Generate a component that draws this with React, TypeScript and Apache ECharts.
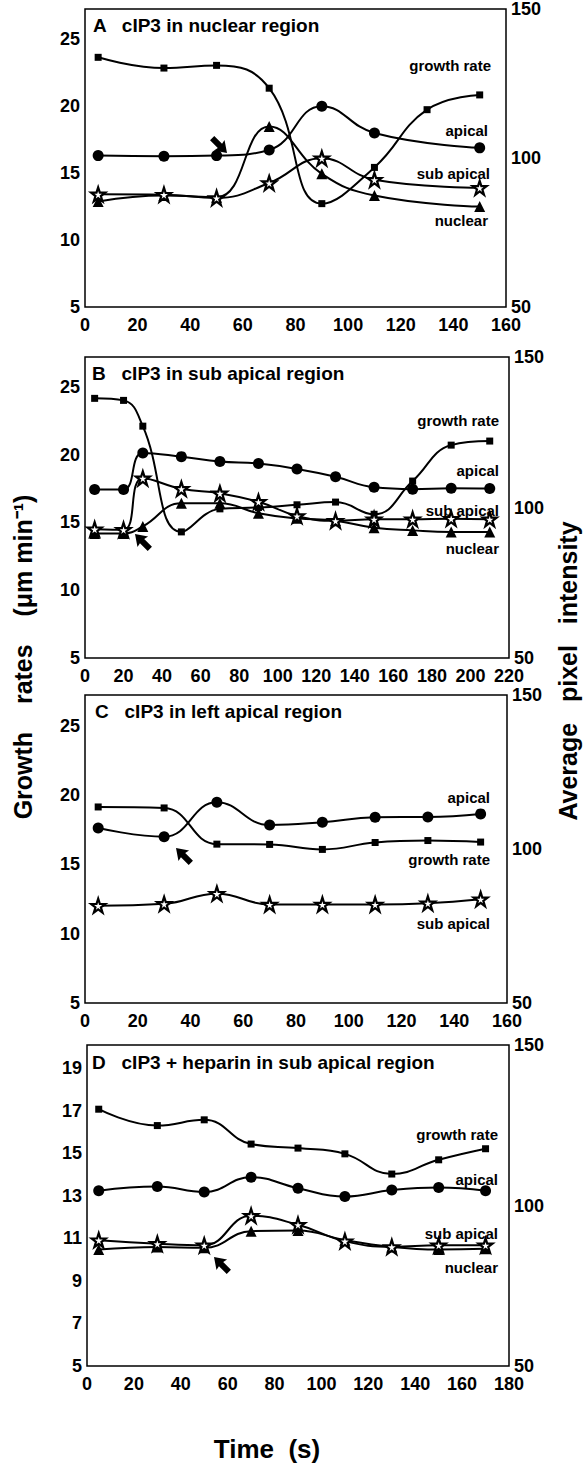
import React, { useEffect, useRef } from "react";
import * as echarts from "echarts";

const FONT = '"Liberation Sans", Arial, Helvetica, sans-serif';

// ---------- Panel A: cIP3 in nuclear region ----------
const timeA = [5, 30, 50, 70, 90, 110, 130, 150];
const growthA = [23.6, 22.8, 23.0, 21.3, 12.7, 15.4, 19.7, 20.8];
const timeA2 = [5, 30, 50, 70, 90, 110, 150];
const apicalA = [100.8, 100.6, 100.8, 102.7, 117.4, 108.4, 103.4];
const subApicalA = [87.8, 87.7, 86.6, 91.6, 99.9, 92.7, 90.0];
const nuclearA = [85.4, 87.4, 86.8, 110.6, 94.7, 87.4, 83.7];

// ---------- Panel B: cIP3 in sub apical region ----------
const timeB = [5, 20, 30, 50, 70, 90, 110, 130, 150, 170, 190, 210];
const growthB = [24.15, 24.0, 22.1, 14.3, 16.0, 16.1, 16.3, 16.5, 15.6, 18.05, 20.7, 21.0];
const apicalB = [106.0, 106.0, 118.1, 116.9, 115.3, 114.6, 112.8, 110.2, 106.7, 106.1, 106.4, 106.3];
const subApicalB = [92.8, 92.6, 109.7, 106.2, 104.7, 101.9, 97.2, 95.6, 96.1, 96.1, 96.3, 96.1];
const nuclearB = [91.4, 91.4, 93.7, 101.4, 101.4, 98.1, 96.4, 95.6, 93.3, 92.4, 91.9, 91.9];

// ---------- Panel C: cIP3 in left apical region ----------
const timeC = [5, 30, 50, 70, 90, 110, 130, 150];
const growthC = [19.13, 19.06, 16.45, 16.43, 16.07, 16.57, 16.71, 16.6];
const apicalC = [106.8, 104.0, 115.2, 107.8, 108.7, 110.3, 110.4, 111.4];
const subApicalC = [81.6, 82.2, 85.5, 82.0, 82.0, 82.0, 82.4, 83.7];

// ---------- Panel D: cIP3 + heparin in sub apical region ----------
const timeD = [5, 30, 50, 70, 90, 110, 130, 150, 170];
const growthD = [17.08, 16.31, 16.58, 15.44, 15.25, 14.98, 14.03, 14.7, 15.22];
const apicalD = [104.6, 105.9, 104.2, 108.8, 105.4, 102.8, 104.8, 105.6, 104.6];
const subApicalD = [89.2, 88.1, 87.6, 96.8, 94.0, 88.9, 87.1, 87.6, 87.6];
const nuclearD = [86.3, 87.1, 86.8, 92.0, 92.2, 89.2, 87.1, 86.3, 86.5];

// axes
const panelTitles = [
  "A   cIP3 in nuclear region",
  "B   cIP3 in sub apical region",
  "C   cIP3 in left apical region",
  "D   cIP3 + heparin in sub apical region",
];
const xMax = [160, 220, 160, 180];
const leftMin = [5, 5, 5, 5];
const leftMax = [27.2, 27.2, 27.2, 20.1];
const leftStep = [5, 5, 5, 2];
const rightMin = 50;
const rightMax = 150;
const rightStep = 50;

const STAR =
  "path://M50,0 L61.8,35.1 L98.9,35.1 L68.9,56.8 L80.3,91.9 L50,70.2 L19.7,91.9 L31.1,56.8 L1.1,35.1 L38.2,35.1 Z";

const grids = [
  { left: 85, top: 8, width: 421, height: 299 },
  { left: 85, top: 357, width: 424, height: 301 },
  { left: 85, top: 695, width: 422, height: 308 },
  { left: 87, top: 1045, width: 422, height: 321 },
];

type Kind = "growth" | "apical" | "sub" | "nuclear";
const symbolFor: Record<Kind, any> = {
  growth: { symbol: "rect", symbolSize: 7, itemStyle: { color: "#000" } },
  apical: { symbol: "circle", symbolSize: 11, itemStyle: { color: "#000" } },
  sub: {
    symbol: STAR,
    symbolSize: 14,
    itemStyle: { color: "#fff", borderColor: "#000", borderWidth: 2.2 },
  },
  nuclear: { symbol: "triangle", symbolSize: 11, itemStyle: { color: "#000" } },
};

function mk(panel: number, kind: Kind, xs: number[], ys: number[]) {
  const onLeft = kind === "growth";
  return {
    type: "line",
    name: `${panel}-${kind}`,
    xAxisIndex: panel,
    yAxisIndex: panel * 2 + (onLeft ? 0 : 1),
    data: xs.map((x, i) => [x, ys[i]]),
    smooth: 0.45,
    showSymbol: true,
    lineStyle: { color: "#000", width: 2 },
    ...symbolFor[kind],
    z: kind === "sub" ? 4 : 3,
    silent: true,
  };
}

// annotation labels: text, rightX, centerY
const seriesLabels: [string, number, number][] = [
  ["growth rate", 491, 65],
  ["apical", 488, 130],
  ["sub apical", 490, 173],
  ["nuclear", 488, 220],
  ["growth rate", 499, 420],
  ["apical", 499, 470],
  ["sub apical", 499, 510],
  ["nuclear", 499, 548],
  ["apical", 490, 797],
  ["growth rate", 490, 859],
  ["sub apical", 490, 923],
  ["growth rate", 498, 1134],
  ["apical", 498, 1179],
  ["sub apical", 498, 1233],
  ["nuclear", 498, 1267],
];
const titlePos: [number, number][] = [
  [93, 25],
  [92, 373],
  [95, 711],
  [92, 1062],
];
// arrows: tip x, tip y, rotation
const arrows: [number, number, number][] = [
  [227, 153, -Math.PI / 4],
  [135, 534, (3 * Math.PI) / 4],
  [176, 848, (3 * Math.PI) / 4],
  [214, 1257, (3 * Math.PI) / 4],
];

const tickLabel = {
  color: "#000",
  fontWeight: "bold" as const,
  fontSize: 18,
  fontFamily: FONT,
  lineHeight: 15,
};

export default function App() {
  const ref = useRef<HTMLDivElement>(null);
  useEffect(() => {
    if (!ref.current) return;
    const chart = echarts.init(ref.current, undefined, { renderer: "svg" });

    const xAxis = grids.map((_, i) => ({
      type: "value",
      gridIndex: i,
      min: 0,
      max: xMax[i],
      interval: 20,
      axisLine: { show: false },
      axisTick: { show: false },
      splitLine: { show: false },
      axisLabel: { ...tickLabel, margin: 10 },
    }));
    const yAxis: any[] = [];
    grids.forEach((_, i) => {
      yAxis.push({
        type: "value",
        gridIndex: i,
        position: "left",
        min: leftMin[i],
        max: leftMax[i],
        interval: 1,
        axisLine: { show: false },
        axisTick: { show: false },
        splitLine: { show: false },
        axisLabel: {
          ...tickLabel,
          margin: 5,
          showMaxLabel: false,
          formatter: (v: number) => {
            const r = Math.round(v);
            if (Math.abs(v - r) > 1e-6) return "";
            return (r - leftMin[i]) % leftStep[i] === 0 ? String(r) : "";
          },
        },
      });
      yAxis.push({
        type: "value",
        gridIndex: i,
        position: "right",
        min: rightMin,
        max: rightMax,
        interval: rightStep,
        axisLine: { show: false },
        axisTick: { show: false },
        splitLine: { show: false },
        axisLabel: { ...tickLabel, margin: 5 },
      });
    });

    const series = [
      mk(0, "growth", timeA, growthA),
      mk(0, "apical", timeA2, apicalA),
      mk(0, "nuclear", timeA2, nuclearA),
      mk(0, "sub", timeA2, subApicalA),
      mk(1, "growth", timeB, growthB),
      mk(1, "apical", timeB, apicalB),
      mk(1, "nuclear", timeB, nuclearB),
      mk(1, "sub", timeB, subApicalB),
      mk(2, "growth", timeC, growthC),
      mk(2, "apical", timeC, apicalC),
      mk(2, "sub", timeC, subApicalC),
      mk(3, "growth", timeD, growthD),
      mk(3, "apical", timeD, apicalD),
      mk(3, "nuclear", timeD, nuclearD),
      mk(3, "sub", timeD, subApicalD),
    ];

    const graphic: any[] = [];
    panelTitles.forEach((t, i) => {
      graphic.push({
        type: "text",
        x: titlePos[i][0],
        y: titlePos[i][1],
        style: {
          text: t,
          fill: "#000",
          font: `bold 19px ${FONT}`,
          align: "left",
          verticalAlign: "middle",
        },
      });
    });
    seriesLabels.forEach(([t, x, y]) => {
      graphic.push({
        type: "text",
        x,
        y,
        style: {
          text: t,
          fill: "#000",
          font: `bold 15px ${FONT}`,
          align: "right",
          verticalAlign: "middle",
        },
      });
    });
    arrows.forEach(([x, y, r]) => {
      graphic.push({
        type: "group",
        x,
        y,
        rotation: r,
        children: [
          {
            type: "polygon",
            shape: {
              points: [
                [0, 0],
                [-11, -7.5],
                [-10, -3],
                [-21, -3],
                [-21, 3],
                [-10, 3],
                [-11, 7.5],
              ],
            },
            style: { fill: "#000" },
          },
        ],
      });
    });
    graphic.push({
      type: "text",
      x: 23,
      y: 657,
      rotation: Math.PI / 2,
      style: {
        text: "Growth    rates    (\u03BCm min\u207B\u00B9)",
        fill: "#000",
        font: `bold 25px ${FONT}`,
        align: "center",
        verticalAlign: "middle",
      },
    });
    graphic.push({
      type: "text",
      x: 568,
      y: 671,
      rotation: Math.PI / 2,
      style: {
        text: "Average   pixel   intensity",
        fill: "#000",
        font: `bold 25px ${FONT}`,
        align: "center",
        verticalAlign: "middle",
      },
    });
    graphic.push({
      type: "text",
      x: 267,
      y: 1449,
      style: {
        text: "Time  (s)",
        fill: "#000",
        font: `bold 26px ${FONT}`,
        align: "center",
        verticalAlign: "middle",
      },
    });

    chart.setOption({
      animation: false,
      backgroundColor: "#fff",
      grid: grids.map((g) => ({
        ...g,
        show: true,
        borderColor: "#000",
        borderWidth: 1.5,
        backgroundColor: "rgba(0,0,0,0)",
        containLabel: false,
      })),
      xAxis,
      yAxis,
      series,
      graphic,
    });
    return () => chart.dispose();
  }, []);

  return (
    <div
      ref={ref}
      style={{
        position: "absolute",
        left: 0,
        top: 0,
        width: 584,
        height: 1465,
        background: "#fff",
      }}
    />
  );
}
